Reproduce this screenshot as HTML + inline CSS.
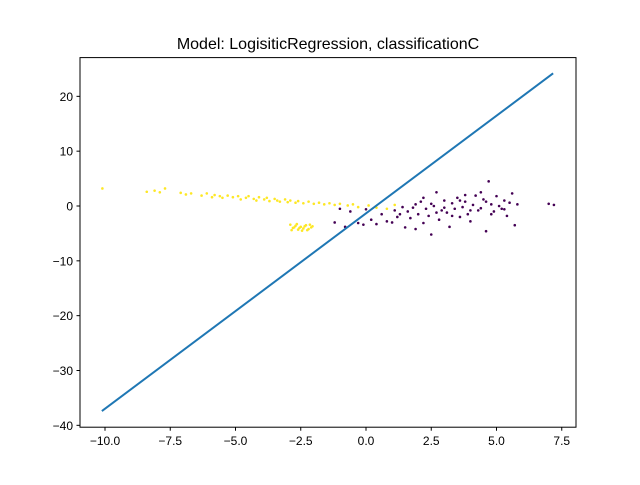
<!DOCTYPE html>
<html><head><meta charset="utf-8"><style>
body{margin:0;background:#fff}
svg{font-family:"Liberation Sans","DejaVu Sans",sans-serif}
</style></head><body>
<svg id="chart" width="640" height="480">
<rect width="640" height="480" fill="#fff"/>
<text x="328" y="49" text-anchor="middle" font-size="16">Model: LogisiticRegression, classificationC</text>
<g id="pts"></g>
<g id="line"></g>
<rect x="80" y="57.6" width="496" height="369.6" fill="none" stroke="#000" stroke-width="1"/>
<g id="axes" font-size="12"></g>
</svg>
<script>
const xTicks=[-10,-7.5,-5,-2.5,0,2.5,5,7.5];
const xTickLabels=["−10.0","−7.5","−5.0","−2.5","0.0","2.5","5.0","7.5"];
const yTicks=[20,10,0,-10,-20,-30,-40];
const yTickLabels=["20","10","0","−10","−20","−30","−40"];
const lineX=[-10.12,7.17];
const lineY=[-37.4,24.2];
const yellowPts=[[-10.1,3.2],[-8.4,2.6],[-8.1,2.8],[-7.9,2.5],[-7.7,3.2],[-7.1,2.4],[-6.9,2.1],[-6.7,2.3],[-6.3,1.9],[-6.1,2.3],[-5.9,1.6],[-5.8,2.0],[-5.6,1.8],[-5.5,1.5],[-5.3,1.9],[-5.1,1.6],[-4.9,1.8],[-4.8,1.2],[-4.6,1.5],[-4.5,1.8],[-4.3,1.3],[-4.2,1.0],[-4.1,1.6],[-3.9,1.2],[-3.8,1.5],[-3.7,0.9],[-3.5,1.3],[-3.4,1.0],[-3.3,0.8],[-3.1,1.2],[-3.0,0.7],[-2.9,1.0],[-2.7,0.6],[-2.6,0.9],[-2.4,0.5],[-2.2,0.8],[-2.0,0.4],[-1.8,0.6],[-1.6,0.3],[-1.4,0.5],[-1.2,0.2],[-1.0,0.4],[-0.7,0.1],[-0.5,0.3],[-0.3,-0.2],[0.1,0.1],[0.4,-0.3],[0.8,-0.5],[1.1,0.2],
[-2.9,-3.4],[-2.8,-4.0],[-2.7,-3.6],[-2.6,-4.3],[-2.5,-3.8],[-2.4,-4.1],[-2.3,-3.5],[-2.2,-4.2],[-2.1,-3.9],[-2.85,-4.4],[-2.65,-3.3],[-2.45,-4.5],[-2.35,-3.7],[-2.15,-3.4],[-2.75,-3.9],[-2.55,-4.0],[-2.25,-4.4],[-2.05,-3.7]];
const purplePts=[[-1.2,-3.0],[-1.0,-0.5],[-0.8,-3.8],[-0.6,-1.0],[-0.3,-3.1],[-0.1,-3.4],[0.2,-2.5],[0.4,-3.3],[0.6,-1.5],[0.8,-2.8],[1.0,-3.0],[1.1,-0.8],[1.2,-2.0],[1.3,-1.5],[1.5,-3.9],[1.6,-1.0],[1.7,-2.2],[1.8,-0.3],[1.9,-4.2],[2.0,-1.5],[2.1,0.8],[2.2,-3.1],[2.3,-0.5],[2.4,-1.8],[2.5,-5.2],[2.6,0.0],[2.7,2.5],[2.8,-2.5],[2.9,-0.8],[3.0,1.0],[3.1,-1.2],[3.2,-3.8],[3.3,0.5],[3.4,-0.5],[3.5,1.5],[3.6,-2.0],[3.7,-0.2],[3.8,0.8],[3.9,-1.5],[4.0,-2.8],[4.1,0.2],[4.2,1.9],[4.3,-0.8],[4.4,-0.4],[4.5,1.2],[4.6,-4.6],[4.7,4.5],[4.8,0.3],[4.9,-1.0],[5.0,1.8],[5.1,0.0],[5.2,-0.5],[5.3,1.0],[5.4,-1.8],[5.5,0.6],[5.6,2.3],[5.7,-3.5],[5.8,0.3],[7.0,0.4],[7.2,0.2],[1.4,-0.2],[2.2,1.5],[3.0,-0.3],[3.6,1.0],[4.0,-0.8],[4.4,2.5],[2.5,0.4],[3.3,-1.8],[4.8,-1.5],[5.3,-0.6],[0.0,-0.6],[1.9,0.3],[2.7,-1.2],[3.8,2.0],[4.6,0.8]];
const svg=document.getElementById('chart');
const NS='http://www.w3.org/2000/svg';
const X=v=>366+(v)*26.1;
const Y=v=>206-(v)*5.483;
function mk(tag,attrs,parent){const e=document.createElementNS(NS,tag);for(const k in attrs)e.setAttribute(k,attrs[k]);parent.appendChild(e);return e;}
const pts=document.getElementById('pts');
yellowPts.forEach(p=>{const c=mk('circle',{cx:X(p[0]),cy:Y(p[1]),r:1.3,fill:'#fde725'},pts);

});
purplePts.forEach(p=>{const c=mk('circle',{cx:X(p[0]),cy:Y(p[1]),r:1.3,fill:'#440154'},pts);

});
const ln=mk('line',{x1:X(lineX[0]),y1:Y(lineY[0]),x2:X(lineX[1]),y2:Y(lineY[1]),stroke:'#1f77b4','stroke-width':2},document.getElementById('line'));


const ax=document.getElementById('axes');
xTicks.forEach((v,i)=>{mk('line',{x1:X(v),x2:X(v),y1:427.2,y2:430.7,stroke:'#000'},ax);
const t=mk('text',{x:X(v),y:445,'text-anchor':'middle'},ax);t.textContent=xTickLabels[i];

});
yTicks.forEach((v,i)=>{mk('line',{x1:76.5,x2:80,y1:Y(v),y2:Y(v),stroke:'#000'},ax);
const t=mk('text',{x:73,y:Y(v)+4.5,'text-anchor':'end'},ax);t.textContent=yTickLabels[i];

});
</script>
</body></html>
